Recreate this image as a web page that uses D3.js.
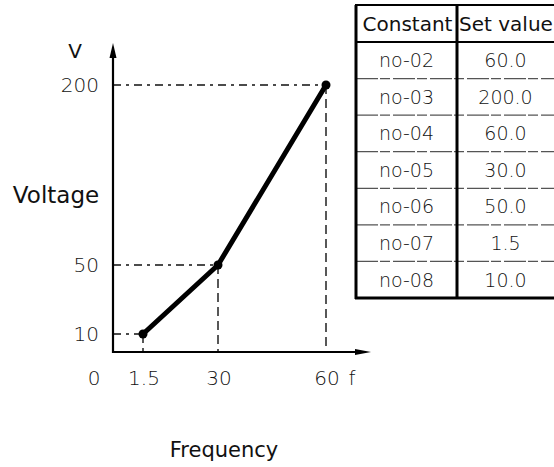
<!DOCTYPE html>
<html>
<head>
<meta charset="utf-8">
<script src="https://cdn.jsdelivr.net/npm/d3@7"></script>
<style>
  html, body { margin: 0; padding: 0; background: #fff; }
  svg { display: block; }
  text { font-family: "DejaVu Sans", sans-serif; fill: #111; }
  .light { font-weight: 200; }
</style>
</head>
<body>
<svg id="chart" width="554" height="467"></svg>
<script>
// V/f pattern parameters (constant number and set value)
const constants = ["no-02", "no-03", "no-04", "no-05", "no-06", "no-07", "no-08"];
const setValues = ["60.0", "200.0", "60.0", "30.0", "50.0", "1.5", "10.0"];

// Pattern break points built from the constants:
// (no-07, no-08) minimum, (no-05, no-06) middle, (no-04, no-03) base
const frequencies = [1.5, 30, 60];
const voltages = [10, 50, 200];

// Axis tick labels
const frequencyTickLabels = ["1.5", "30", "60"];
const voltageTickLabels = ["10", "50", "200"];

const svg = d3.select("#chart");

// Non-uniform drawing scales (the pattern is shown schematically)
const x = d3.scaleLinear().domain([0, 1.5, 30, 60]).range([113, 143, 218, 326]);
const y = d3.scaleLinear().domain([0, 10, 50, 200]).range([352, 334, 265, 85]);

const points = frequencies.map((f, i) => ({ f, v: voltages[i] }));

// Dashed guide lines from each break point to both axes
const guides = svg.append("g")
  .attr("stroke", "#111")
  .attr("stroke-width", 1.4)
  .attr("stroke-dasharray", "8,5,3,5");
guides.selectAll("line.h").data(points).join("line")
  .attr("class", "h")
  .attr("x1", x(0)).attr("x2", d => x(d.f))
  .attr("y1", d => y(d.v)).attr("y2", d => y(d.v));
guides.selectAll("line.v").data(points).join("line")
  .attr("class", "v")
  .attr("stroke-dasharray", "9,5")
  .attr("x1", d => x(d.f)).attr("x2", d => x(d.f))
  .attr("y1", d => y(d.v)).attr("y2", y(0));

// Axes with arrow heads
const axisG = svg.append("g");
axisG.append("line")
  .attr("x1", x(0)).attr("x2", x(0))
  .attr("y1", y(0) + 1).attr("y2", 52)
  .attr("stroke", "#000").attr("stroke-width", 2.2);
axisG.append("path")
  .attr("d", `M${x(0)},43 L${x(0) - 3.5},58 L${x(0) + 3.5},58 Z`)
  .attr("fill", "#000");
axisG.append("line")
  .attr("x1", x(0) - 1).attr("x2", 360)
  .attr("y1", y(0)).attr("y2", y(0))
  .attr("stroke", "#000").attr("stroke-width", 2.2);
axisG.append("path")
  .attr("d", `M371,${y(0)} L355,${y(0) - 3} L355,${y(0) + 3} Z`)
  .attr("fill", "#000");

// V/f characteristic line
svg.append("path")
  .datum(points)
  .attr("fill", "none")
  .attr("stroke", "#000")
  .attr("stroke-width", 5)
  .attr("stroke-linejoin", "round")
  .attr("d", d3.line().x(d => x(d.f)).y(d => y(d.v)));
svg.selectAll("circle.pt").data(points).join("circle")
  .attr("class", "pt")
  .attr("cx", d => x(d.f)).attr("cy", d => y(d.v))
  .attr("r", 4.5).attr("fill", "#000");

// Voltage tick labels
svg.selectAll("text.vt").data(voltages).join("text")
  .attr("class", "vt light")
  .attr("x", 99).attr("y", d => y(d))
  .attr("dy", "0.36em")
  .attr("text-anchor", "end")
  .attr("font-size", 20)
  .attr("fill", "#000")
  .text((d, i) => voltageTickLabels[i]);

// Frequency tick labels
svg.selectAll("text.ft").data(frequencies).join("text")
  .attr("class", "ft light")
  .attr("x", d => x(d) + 1).attr("y", 385)
  .attr("text-anchor", "middle")
  .attr("font-size", 20)
  .attr("fill", "#000")
  .text((d, i) => frequencyTickLabels[i]);
svg.append("text").attr("class", "light").attr("x", 94).attr("y", 385)
  .attr("text-anchor", "middle").attr("font-size", 20).attr("fill", "#000").text("0");
svg.append("text").attr("class", "light").attr("x", 352).attr("y", 385)
  .attr("text-anchor", "middle").attr("font-size", 20).attr("fill", "#000").text("f");
svg.append("text").attr("x", 75).attr("y", 58)
  .attr("text-anchor", "middle").attr("font-size", 20).text("V");

// Axis titles
svg.append("text").attr("x", 56).attr("y", 203)
  .attr("text-anchor", "middle").attr("font-size", 23).text("Voltage");
svg.append("text").attr("x", 224).attr("y", 457)
  .attr("text-anchor", "middle").attr("font-size", 21).text("Frequency");

// Parameter table
const tLeft = 356, tMid = 457, tRight = 554, tTop = 5, tHead = 42, tBottom = 298;
const rowY = d3.scaleBand().domain(constants).range([tHead, tBottom]);
const table = svg.append("g");

// thin row separators
table.selectAll("line.row").data(constants.slice(1)).join("line")
  .attr("class", "row")
  .attr("x1", tLeft).attr("x2", tRight)
  .attr("y1", d => rowY(d)).attr("y2", d => rowY(d))
  .attr("stroke", "#555").attr("stroke-width", 1.2)
  .attr("stroke-dasharray", "22,2,10,3");

// heavy frame
table.append("line").attr("x1", tLeft - 1).attr("x2", tRight).attr("y1", tTop).attr("y2", tTop)
  .attr("stroke", "#000").attr("stroke-width", 2);
table.append("line").attr("x1", tLeft).attr("x2", tRight).attr("y1", tHead).attr("y2", tHead)
  .attr("stroke", "#000").attr("stroke-width", 2.2);
table.append("line").attr("x1", tLeft - 1).attr("x2", tRight).attr("y1", tBottom).attr("y2", tBottom)
  .attr("stroke", "#000").attr("stroke-width", 3);
table.append("line").attr("x1", tLeft).attr("x2", tLeft).attr("y1", tTop).attr("y2", tBottom + 1)
  .attr("stroke", "#000").attr("stroke-width", 3);
table.append("line").attr("x1", tMid).attr("x2", tMid).attr("y1", tTop).attr("y2", tBottom + 1)
  .attr("stroke", "#000").attr("stroke-width", 3);

// header
table.append("text").attr("x", (tLeft + tMid) / 2 + 1).attr("y", (tTop + tHead) / 2)
  .attr("dy", "0.36em").attr("text-anchor", "middle").attr("font-size", 20).text("Constant");
table.append("text").attr("x", (tMid + tRight) / 2 + 0.5).attr("y", (tTop + tHead) / 2)
  .attr("dy", "0.36em").attr("text-anchor", "middle").attr("font-size", 20).text("Set value");

// rows
table.selectAll("text.c").data(constants).join("text")
  .attr("class", "c light")
  .attr("x", (tLeft + tMid) / 2).attr("y", d => rowY(d) + rowY.bandwidth() / 2)
  .attr("dy", "0.36em").attr("text-anchor", "middle").attr("font-size", 19)
  .attr("fill", "#000")
  .text(d => d);
table.selectAll("text.s").data(setValues).join("text")
  .attr("class", "s light")
  .attr("x", (tMid + tRight) / 2).attr("y", (d, i) => rowY(constants[i]) + rowY.bandwidth() / 2)
  .attr("dy", "0.36em").attr("text-anchor", "middle").attr("font-size", 19)
  .attr("fill", "#000")
  .text(d => d);
</script>
</body>
</html>
